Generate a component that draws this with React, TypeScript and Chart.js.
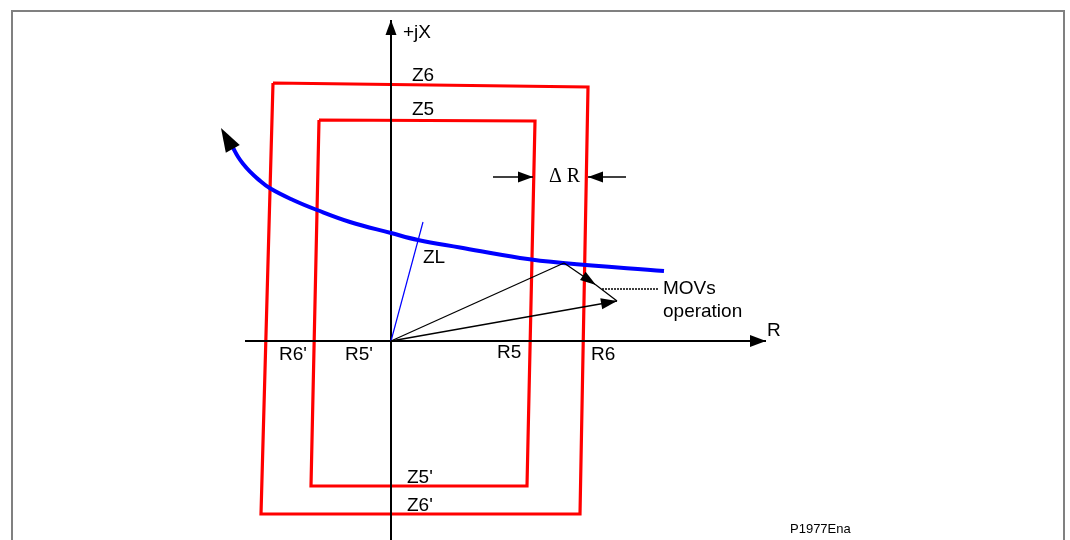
import React, { useEffect, useRef } from "react";
import { Chart, registerables } from "chart.js";

Chart.register(...registerables);

// Impedance plane, units: R (horizontal) and jX (vertical), origin where the axes cross
const axisRangeR = [-39.1, 67.9];
const axisRangeX = [-19.9, 34.1];

// Zone 6 quadrilateral (closed)
const zone6R = [-11.8, 19.7, 18.9, -13.0, -11.8];
const zone6X = [25.8, 25.4, -17.3, -17.3, 25.8];
// Zone 5 quadrilateral (closed)
const zone5R = [-7.2, 14.4, 13.6, -8.0, -7.2];
const zone5X = [22.1, 22.0, -14.5, -14.5, 22.1];

// Load impedance locus
const loadR = [-16.05, -15.77, -15.3, -14.8, -14.1, -13.3, -12.1, -9.8, -7.4, -4.1, 0, 2.7, 6.9, 12.9, 17.2, 27.3];
const loadX = [19.8, 19.27, 18.42, 17.72, 16.93, 16.19, 15.27, 14.1, 13.1, 11.9, 10.8, 10.1, 9.35, 8.3, 7.8, 7.0];
// Locus direction arrow (base -> tip)
const loadArrowR = [-15.9, -17.0];
const loadArrowX = [19.35, 21.3];

// Axes
const rAxisR = [-14.6, 37.5];
const rAxisX = [0, 0];
const xAxisR = [0, 0];
const xAxisX = [-21, 32.1];

// Line impedance ZL
const zlR = [0, 3.2];
const zlX = [0, 11.9];

// MOV operation vectors
const movVecR = [0, 17.3];
const movVecX = [0, 7.8];
const movShiftR = [17.3, 20.5, 22.6];
const movShiftX = [7.8, 5.6, 4.0];
const movResR = [0, 22.6];
const movResX = [0, 4.0];
const movLeaderR = [21.1, 26.7];
const movLeaderX = [5.2, 5.2];

// Delta R dimension arrows
const dRLeftR = [10.2, 14.2];
const dRRightR = [23.5, 19.7];
const dRX = [16.4, 16.4];

// Labels
const labelTexts = ["+jX", "Z6", "Z5", "ZL", "R6'", "R5'", "R5", "R6", "R", "MOVs", "operation", "Z5'", "Z6'", "\u0394 R", "P1977Ena"];
const labelR = [1.2, 2.1, 2.1, 3.2, -11.2, -4.6, 10.6, 20.0, 37.6, 27.2, 27.2, 1.6, 1.6, 15.8, 39.9];
const labelX = [30.8, 26.5, 23.1, 8.3, -1.4, -1.4, -1.2, -1.4, 1.0, 5.2, 2.9, -13.7, -16.5, 16.4, -18.8];
const labelFonts = ["s", "s", "s", "s", "s", "s", "s", "s", "s", "s", "s", "s", "s", "serif", "small"];

const pts = (r: number[], x: number[]) => r.map((v, i) => ({ x: v, y: x[i] }));

const framePlugin = {
  id: "frame",
  beforeDatasetsDraw(chart: any) {
    const ctx = chart.ctx;
    ctx.save();
    ctx.strokeStyle = "#808080";
    ctx.lineWidth = 2;
    ctx.strokeRect(12, 11, 1052, 600);
    ctx.restore();
  },
};

const arrowPlugin = {
  id: "arrows",
  afterDatasetsDraw(chart: any) {
    const ctx = chart.ctx;
    chart.data.datasets.forEach((ds: any, i: number) => {
      if (!ds.arrows) return;
      const meta = chart.getDatasetMeta(i);
      ds.arrows.forEach((a: any) => {
        const tip = meta.data[a.at];
        const from = meta.data[a.from];
        const dx = tip.x - from.x;
        const dy = tip.y - from.y;
        const d = Math.hypot(dx, dy) || 1;
        const ux = dx / d;
        const uy = dy / d;
        const bx = tip.x - ux * a.len;
        const by = tip.y - uy * a.len;
        ctx.save();
        ctx.fillStyle = "#000";
        ctx.beginPath();
        ctx.moveTo(tip.x, tip.y);
        ctx.lineTo(bx - uy * a.hw, by + ux * a.hw);
        ctx.lineTo(bx + uy * a.hw, by - ux * a.hw);
        ctx.closePath();
        ctx.fill();
        ctx.restore();
      });
    });
  },
};

const labelPlugin = {
  id: "labels",
  afterDraw(chart: any) {
    const ctx = chart.ctx;
    const xs = chart.scales.x;
    const ys = chart.scales.y;
    ctx.save();
    ctx.fillStyle = "#000";
    ctx.textAlign = "left";
    ctx.textBaseline = "middle";
    labelTexts.forEach((t, i) => {
      const f = labelFonts[i];
      ctx.font =
        f === "serif"
          ? '20px "Liberation Serif", "Times New Roman", serif'
          : f === "small"
          ? '13px "Liberation Sans", Arial, sans-serif'
          : '19px "Liberation Sans", Arial, sans-serif';
      ctx.fillText(t, xs.getPixelForValue(labelR[i]), ys.getPixelForValue(labelX[i]));
    });
    ctx.restore();
  },
};

export default function App() {
  const ref = useRef<HTMLCanvasElement | null>(null);

  useEffect(() => {
    if (!ref.current) return;
    const base = { showLine: true, pointRadius: 0, fill: false, borderCapStyle: "butt" };
    const chart = new Chart(ref.current, {
      type: "scatter",
      data: {
        datasets: [
          { ...base, label: "MOV shift", data: pts(movShiftR, movShiftX), borderColor: "#000", borderWidth: 1.3, arrows: [{ at: 1, from: 0, len: 16, hw: 5 }] },
          { ...base, label: "MOV result", data: pts(movResR, movResX), borderColor: "#000", borderWidth: 1.3, arrows: [{ at: 1, from: 0, len: 16, hw: 5.5 }] },
          { ...base, label: "MOV vector", data: pts(movVecR, movVecX), borderColor: "#000", borderWidth: 1.3 },
          { ...base, label: "MOV leader", data: pts(movLeaderR, movLeaderX), borderColor: "#000", borderWidth: 1.3, borderDash: [2, 1] },
          { ...base, label: "dR left", data: pts(dRLeftR, dRX), borderColor: "#000", borderWidth: 1.3, arrows: [{ at: 1, from: 0, len: 15, hw: 5.5 }] },
          { ...base, label: "dR right", data: pts(dRRightR, dRX), borderColor: "#000", borderWidth: 1.3, arrows: [{ at: 1, from: 0, len: 15, hw: 5.5 }] },
          { ...base, label: "ZL", data: pts(zlR, zlX), borderColor: "#0000ff", borderWidth: 1.2 },
          { ...base, label: "Load arrow", data: pts(loadArrowR, loadArrowX), showLine: false, borderColor: "rgba(0,0,0,0)", arrows: [{ at: 1, from: 0, len: 24, hw: 8 }] },
          { ...base, label: "Load", data: pts(loadR, loadX), borderColor: "#0000ff", borderWidth: 4, tension: 0.4 },
          { ...base, label: "R axis", data: pts(rAxisR, rAxisX), borderColor: "#000", borderWidth: 2, arrows: [{ at: 1, from: 0, len: 16, hw: 6 }] },
          { ...base, label: "X axis", data: pts(xAxisR, xAxisX), borderColor: "#000", borderWidth: 2, arrows: [{ at: 1, from: 0, len: 15, hw: 5.5 }] },
          { ...base, label: "Z5", data: pts(zone5R, zone5X), borderColor: "#ff0000", borderWidth: 3.2, borderJoinStyle: "miter" },
          { ...base, label: "Z6", data: pts(zone6R, zone6X), borderColor: "#ff0000", borderWidth: 3.2, borderJoinStyle: "miter" },
        ] as any,
      },
      options: {
        animation: false,
        responsive: false,
        devicePixelRatio: 1,
        events: [],
        layout: { padding: 0 },
        plugins: { legend: { display: false }, tooltip: { enabled: false } },
        scales: {
          x: { type: "linear", display: false, min: axisRangeR[0], max: axisRangeR[1] },
          y: { type: "linear", display: false, min: axisRangeX[0], max: axisRangeX[1] },
        },
      } as any,
      plugins: [framePlugin, arrowPlugin, labelPlugin],
    });
    return () => chart.destroy();
  }, []);

  return (
    <div style={{ position: "fixed", left: 0, top: 0, width: 1070, height: 540, background: "#fff" }}>
      <canvas ref={ref} width={1070} height={540} style={{ display: "block", width: 1070, height: 540 }} />
    </div>
  );
}
